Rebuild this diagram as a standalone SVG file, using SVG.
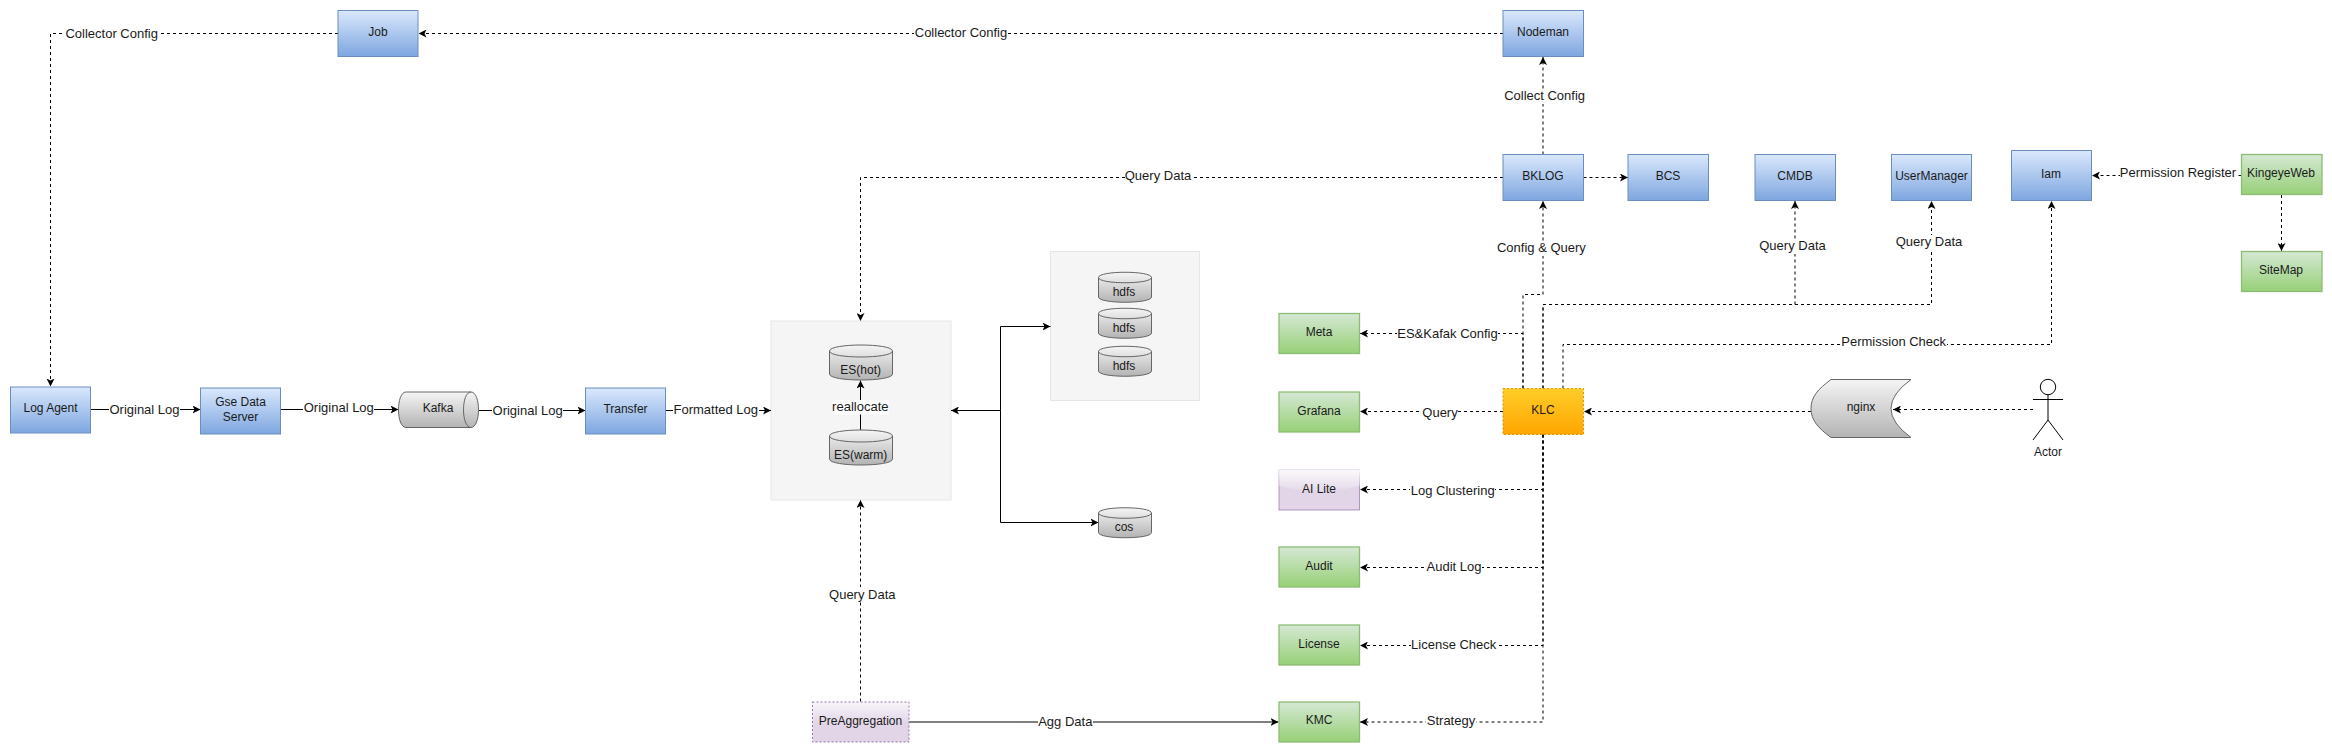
<svg xmlns="http://www.w3.org/2000/svg" width="2332" height="753" viewBox="0 0 2332 753">
<style>
text{font-family:"Liberation Sans",Arial,sans-serif;text-anchor:middle;dominant-baseline:central;fill:#1a1a1a;transform:translateY(-1px)}
.n{font-size:12px}
.l{font-size:13px}
.blue{fill:url(#gb);stroke:#6c8ebf;stroke-width:1}
.green{fill:url(#gg);stroke:#8fbc74;stroke-width:1.3}
.orange{fill:url(#go);stroke:#d79b00;stroke-width:1;stroke-dasharray:2 2}
.purple{fill:url(#gp);stroke:#9673a6;stroke-width:1;stroke-dasharray:2 2}
.gray{fill:url(#gc);stroke:#666;stroke-width:1}
.box{fill:#f5f5f5;stroke:#e6e6e6;stroke-width:1}
.d,.s{fill:none;stroke:#000;stroke-width:1}
.d{stroke-dasharray:3 3}
.a{marker-end:url(#arrow)}
.bg{fill:#fff}
</style>
<defs>
<linearGradient id="gb" x1="0" y1="0" x2="0" y2="1"><stop offset="0" stop-color="#dae8fc"/><stop offset="1" stop-color="#7ea6e0"/></linearGradient>
<linearGradient id="gg" x1="0" y1="0" x2="0" y2="1"><stop offset="0" stop-color="#d5e8d4"/><stop offset="1" stop-color="#97d077"/></linearGradient>
<linearGradient id="go" x1="0" y1="0" x2="0" y2="1"><stop offset="0" stop-color="#ffcd28"/><stop offset="1" stop-color="#ffa500"/></linearGradient>
<linearGradient id="gp" x1="0" y1="0" x2="0" y2="1"><stop offset="0" stop-color="#f8f5fa"/><stop offset=".55" stop-color="#e1d5e7"/><stop offset="1" stop-color="#e1d5e7"/></linearGradient>
<linearGradient id="gc" x1="0" y1="0" x2="0" y2="1"><stop offset="0" stop-color="#f5f5f5"/><stop offset="1" stop-color="#b3b3b3"/></linearGradient>
<linearGradient id="gl" x1="0" y1="0" x2="0" y2="1"><stop offset="0" stop-color="#fff" stop-opacity=".9"/><stop offset="1" stop-color="#fff" stop-opacity=".1"/></linearGradient>
<marker id="arrow" viewBox="0 0 8 8" refX="8" refY="4" markerWidth="8" markerHeight="8" markerUnits="userSpaceOnUse" orient="auto"><path d="M8,4 L0,0 L2,4 L0,8 z" fill="#000"/></marker>
</defs>
<rect width="2332" height="753" fill="#fff"/>
<g id="group-es-box"><rect class="box" x="771" y="321" width="180" height="179"/></g>
<g id="group-hdfs-box"><rect class="box" x="1050.5" y="251.5" width="149" height="149"/></g>
<g id="connectors">
<path class="d a" d="M1503,33.5H418.5"/>
<path class="d a" d="M338,33.5H50.5V386.5"/>
<path class="s a" d="M90.5,409.5H200.5"/>
<path class="s a" d="M280.5,409.5H398.5"/>
<path class="s a" d="M478.5,410.5H585.5"/>
<path class="s a" d="M665.5,410.5H771"/>
<path class="d a" d="M1503,177.5H860.5V321"/>
<path class="d a" d="M1543,154.5V57"/>
<path class="d a" d="M1583.5,177.5H1628"/>
<path class="d a" d="M1523,388.5V294.5H1543V201"/>
<path class="d a" d="M1543,388.5V304.5H1795V201"/>
<path class="d a" d="M1543,388.5V304.5H1931.5V201"/>
<path class="d a" d="M1563,388.5V344.5H2051.5V201"/>
<path class="d a" d="M1523,388.5V333.5H1360"/>
<path class="d a" d="M1503,411.5H1360"/>
<path class="d a" d="M1811,411.5H1584"/>
<path class="d a" d="M2033,409.5H1893"/>
<path class="d a" d="M1543,434.5V722H1360"/>
<path class="d a" d="M1543,434.5V489.5H1360"/>
<path class="d a" d="M1543,434.5V567.5H1360"/>
<path class="d a" d="M1543,434.5V645.5H1360"/>
<path class="d a" d="M2241.5,175.5H2092"/>
<path class="d a" d="M2281.5,195V251"/>
<path class="d a" d="M860.5,701.5V500"/>
<path class="s a" d="M909,722H1278.5"/>
<path class="s a" d="M860.5,430V380.5"/>
<path class="s a" d="M1000.5,410.5H951"/>
<path class="s a" d="M1000.5,410.5V326.5H1050.5"/>
<path class="s a" d="M1000.5,410.5V522.5H1098.5"/>
<g>
<rect class="bg" x="65" y="26" width="94" height="15"/><text class="l" x="111.7" y="34">Collector Config</text>
<rect class="bg" x="914" y="26" width="94" height="15"/><text class="l" x="961" y="33.5">Collector Config</text>
<rect class="bg" x="109" y="402" width="71" height="15"/><text class="l" x="144.5" y="410">Original Log</text>
<rect class="bg" x="303" y="401" width="71" height="15"/><text class="l" x="338.8" y="408.7">Original Log</text>
<rect class="bg" x="492" y="403" width="71" height="15"/><text class="l" x="527.6" y="411">Original Log</text>
<rect class="bg" x="673" y="403" width="86" height="15"/><text class="l" x="715.8" y="410.7">Formatted Log</text>
<rect class="bg" x="1125" y="170" width="68" height="15"/><text class="l" x="1158" y="176.5">Query Data</text>
<rect class="bg" x="1504" y="89" width="82" height="15"/><text class="l" x="1544.6" y="96.7">Collect Config</text>
<rect class="bg" x="1497" y="241" width="90" height="15"/><text class="l" x="1541.4" y="248.7">Config &amp; Query</text>
<rect class="bg" x="1759" y="239" width="68" height="15"/><text class="l" x="1792.5" y="246.7">Query Data</text>
<rect class="bg" x="1896" y="235" width="68" height="15"/><text class="l" x="1929" y="242.7">Query Data</text>
<rect class="bg" x="1841" y="335" width="106" height="15"/><text class="l" x="1893.7" y="342.3">Permission Check</text>
<rect class="bg" x="2120" y="166" width="118" height="15"/><text class="l" x="2178" y="173.3">Permission Register</text>
<rect class="bg" x="1397" y="327" width="101" height="15"/><text class="l" x="1447.5" y="334.3">ES&amp;Kafak Config</text>
<rect class="bg" x="1422" y="405" width="36" height="15"/><text class="l" x="1440" y="413.3">Query</text>
<rect class="bg" x="1410" y="484" width="85" height="15"/><text class="l" x="1452.7" y="491.7">Log Clustering</text>
<rect class="bg" x="1426" y="560" width="56" height="15"/><text class="l" x="1454" y="567.3">Audit Log</text>
<rect class="bg" x="1411" y="638" width="86" height="15"/><text class="l" x="1453.7" y="645.3">License Check</text>
<rect class="bg" x="1426" y="714" width="50" height="15"/><text class="l" x="1451" y="721">Strategy</text>
<rect class="bg" x="1038" y="715" width="55" height="15"/><text class="l" x="1065.3" y="722">Agg Data</text>
<rect class="bg" x="829" y="587" width="68" height="15"/><text class="l" x="862.3" y="595">Query Data</text>
<rect class="bg" x="832.5" y="400" width="56" height="14.5"/><text class="l" x="860.3" y="407.7">reallocate</text>
</g>
</g>
<g id="job"><rect class="blue" x="338" y="10.5" width="80" height="46"/><text class="n" x="378" y="33">Job</text></g>
<g id="nodeman"><rect class="blue" x="1503" y="10.5" width="80.5" height="46"/><text class="n" x="1543" y="33">Nodeman</text></g>
<g id="log-agent"><rect class="blue" x="10.5" y="387" width="80" height="46"/><text class="n" x="50.5" y="409">Log Agent</text></g>
<g id="gse-data-server"><rect class="blue" x="200.5" y="388" width="80" height="46"/><text class="n" x="240.5" y="402.7">Gse Data</text><text class="n" x="240.5" y="417.7">Server</text></g>
<g id="kafka"><path class="gray" d="M406,392H471C481,392 481,427.5 471,427.5H406C396,427.5 396,392 406,392Z"/><path class="gray" style="fill:none" d="M471,392C461,392 461,427.5 471,427.5"/><text class="n" x="438" y="408.7">Kafka</text></g>
<g id="transfer"><rect class="blue" x="585.5" y="388" width="80" height="46"/><text class="n" x="625.5" y="409.5">Transfer</text></g>
<g id="es-hot"><path class="gray" d="M829.5,351C829.5,343 892.5,343 892.5,351V374C892.5,382 829.5,382 829.5,374Z"/><path class="gray" style="fill:none" d="M829.5,351C829.5,359 892.5,359 892.5,351"/><text class="n" x="860.7" y="370.7">ES(hot)</text></g>
<g id="es-warm"><path class="gray" d="M829.5,436C829.5,428 892.5,428 892.5,436V459C892.5,467 829.5,467 829.5,459Z"/><path class="gray" style="fill:none" d="M829.5,436C829.5,444 892.5,444 892.5,436"/><text class="n" x="860.7" y="455.7">ES(warm)</text></g>
<g id="hdfs-1"><path class="gray" d="M1098.5,277.5C1098.5,270.5 1151.5,270.5 1151.5,277.5V297C1151.5,304 1098.5,304 1098.5,297Z"/><path class="gray" style="fill:none" d="M1098.5,277.5C1098.5,284.5 1151.5,284.5 1151.5,277.5"/><text class="n" x="1124" y="292.7">hdfs</text></g>
<g id="hdfs-2"><path class="gray" d="M1098.5,313.5C1098.5,306.5 1151.5,306.5 1151.5,313.5V333C1151.5,340 1098.5,340 1098.5,333Z"/><path class="gray" style="fill:none" d="M1098.5,313.5C1098.5,320.5 1151.5,320.5 1151.5,313.5"/><text class="n" x="1124" y="328.7">hdfs</text></g>
<g id="hdfs-3"><path class="gray" d="M1098.5,351.5C1098.5,344.5 1151.5,344.5 1151.5,351.5V371C1151.5,378 1098.5,378 1098.5,371Z"/><path class="gray" style="fill:none" d="M1098.5,351.5C1098.5,358.5 1151.5,358.5 1151.5,351.5"/><text class="n" x="1124" y="366.7">hdfs</text></g>
<g id="cos"><path class="gray" d="M1098.5,513C1098.5,506 1151.5,506 1151.5,513V532.5C1151.5,539.5 1098.5,539.5 1098.5,532.5Z"/><path class="gray" style="fill:none" d="M1098.5,513C1098.5,520 1151.5,520 1151.5,513"/><text class="n" x="1124" y="527.5">cos</text></g>
<g id="bklog"><rect class="blue" x="1503" y="154.5" width="80.5" height="46"/><text class="n" x="1543" y="176.5">BKLOG</text></g>
<g id="bcs"><rect class="blue" x="1628" y="154.5" width="80.5" height="46"/><text class="n" x="1668" y="176.5">BCS</text></g>
<g id="cmdb"><rect class="blue" x="1755" y="154.5" width="80.5" height="46"/><text class="n" x="1795" y="176.5">CMDB</text></g>
<g id="usermanager"><rect class="blue" x="1891.5" y="154.5" width="80" height="46"/><text class="n" x="1931.5" y="176.5">UserManager</text></g>
<g id="iam"><rect class="blue" x="2011.5" y="150.5" width="80" height="50"/><text class="n" x="2051" y="174.5">Iam</text></g>
<g id="kingeyeweb"><rect class="green" x="2241.5" y="154.5" width="80.5" height="40"/><text class="n" x="2281" y="173.5">KingeyeWeb</text></g>
<g id="sitemap"><rect class="green" x="2241.5" y="251.5" width="80.5" height="40"/><text class="n" x="2281" y="270.5">SiteMap</text></g>
<g id="meta"><rect class="green" x="1279" y="313.5" width="80.5" height="40"/><text class="n" x="1319" y="332.5">Meta</text></g>
<g id="grafana"><rect class="green" x="1279" y="392" width="80.5" height="40"/><text class="n" x="1319" y="411.5">Grafana</text></g>
<g id="ai-lite"><rect fill="#e1d5e7" stroke="#9673a6" stroke-opacity=".7" x="1279" y="470" width="80.5" height="40"/><path fill="url(#gl)" d="M1278.5,469.5H1360V486Q1319,496 1278.5,486Z"/><text class="n" x="1319" y="489.5">AI Lite</text></g>
<g id="audit"><rect class="green" x="1279" y="547" width="80.5" height="40"/><text class="n" x="1319" y="566.5">Audit</text></g>
<g id="license"><rect class="green" x="1279" y="625" width="80.5" height="40"/><text class="n" x="1319" y="644.5">License</text></g>
<g id="kmc"><rect class="green" x="1279" y="702" width="80.5" height="40"/><text class="n" x="1319" y="721">KMC</text></g>
<g id="klc"><rect class="orange" x="1503" y="388.5" width="80.5" height="46"/><text class="n" x="1543" y="410.7">KLC</text></g>
<g id="preaggregation"><rect class="purple" x="812.5" y="702" width="96.5" height="40"/><text class="n" x="860.5" y="721.5">PreAggregation</text></g>
<g id="nginx"><path class="gray" d="M1831,379.5H1911Q1871,408.5 1911,437.5H1831C1818,428 1811,420 1811,408.5C1811,397 1818,389 1831,379.5Z"/><text class="n" x="1861" y="408">nginx</text></g>
<g id="actor" fill="none" stroke="#000"><circle cx="2048" cy="387" r="7.7"/><path d="M2048,394.7V420M2033,399.5H2063M2033,440L2048,420L2063,440"/><text class="n" x="2048" y="452.7" stroke="none">Actor</text></g>
</svg>
